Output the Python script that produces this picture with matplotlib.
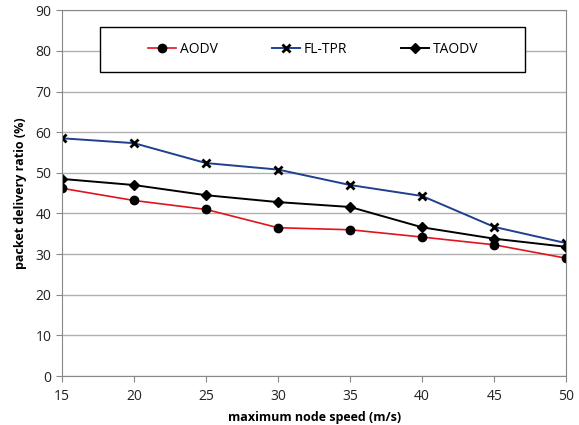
import matplotlib.pyplot as plt
from matplotlib.patches import Rectangle

speed = [15, 20, 25, 30, 35, 40, 45, 50]
aodv = [46.2, 43.2, 41.0, 36.5, 36.0, 34.2, 32.3, 29.0]
fltpr = [58.5, 57.3, 52.4, 50.8, 47.0, 44.3, 36.7, 32.7]
taodv = [48.5, 47.0, 44.5, 42.8, 41.6, 36.6, 33.8, 31.8]

plt.rcParams['font.family'] = ['Open Sans', 'DejaVu Sans']

fig = plt.figure(figsize=(5.79, 4.25), dpi=100)
ax = fig.add_axes([0.107, 0.115, 0.871, 0.861])

ax.plot(speed, aodv, color='#e0141c', lw=1.2, marker='o', ms=6,
        mfc='black', mec='black', label='AODV')
ax.plot(speed, fltpr, color='#1f3f8f', lw=1.4, marker='x', ms=6, mew=2,
        mec='black', label='FL-TPR')
ax.plot(speed, taodv, color='black', lw=1.4, marker='D', ms=5,
        mfc='black', mec='black', label='TAODV')

ax.set_xlim(15, 50)
ax.set_ylim(0, 90)
ax.set_xticks(speed)
ax.set_yticks(range(0, 91, 10))
ax.yaxis.grid(True, color='#b0b0b0', lw=1)
ax.set_axisbelow(True)
for s in ax.spines.values():
    s.set_color('#888888')
ax.tick_params(colors='#888888', labelcolor='#222222', labelsize=10, length=4)
ax.tick_params(axis='x', pad=5)

ax.set_xlabel('maximum node speed (m/s)', fontsize=9, fontweight='bold', labelpad=5)
ax.set_ylabel('packet delivery ratio (%)', fontsize=9, fontweight='bold', labelpad=6)

# legend box drawn separately, entries centred inside
box = Rectangle((0.173, 0.83), 0.734, 0.106, transform=fig.transFigure,
                facecolor='white', edgecolor='black', lw=1, zorder=5)
fig.patches.append(box)
leg = fig.legend(loc='center', bbox_to_anchor=(0.541, 0.883), ncol=3,
                 frameon=False, fontsize=10, handlelength=2.0,
                 handletextpad=0.3, columnspacing=3.9)
leg.set_zorder(6)

fig.savefig('out.png', dpi=100)
